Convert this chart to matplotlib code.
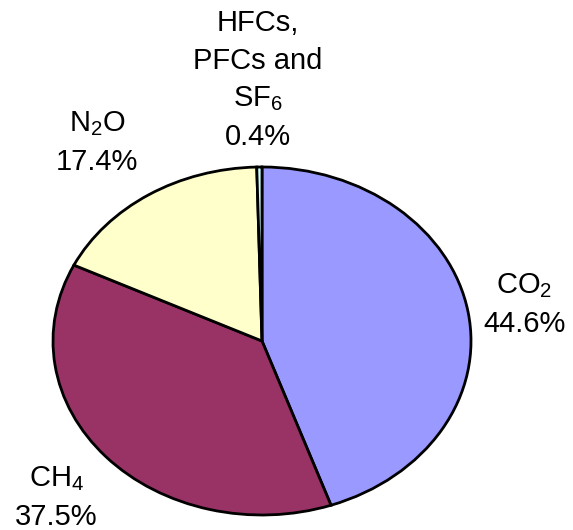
import matplotlib
matplotlib.use("Agg")
import matplotlib.pyplot as plt

plt.rcParams['font.family'] = ['Liberation Sans', 'DejaVu Sans']
plt.rcParams['mathtext.fontset'] = 'custom'
plt.rcParams['mathtext.rm'] = 'Liberation Sans'
plt.rcParams['mathtext.it'] = 'Liberation Sans'
plt.rcParams['mathtext.default'] = 'rm'

gases = ['CO$_2$', 'CH$_4$', 'N$_2$O', 'HFCs,\nPFCs and\nSF$_6$']
shares = [44.6, 37.5, 17.4, 0.4]
colors = ['#9999FF', '#993366', '#FFFFCC', '#CCFFFF']

# label anchor points in pie units (radius 1, ellipse drawn by axes stretch)
label_xy = [(1.255, 0.21), (-0.985, -0.90), (-0.79, 1.14), (-0.02, 1.50)]

fig = plt.figure(figsize=(5.73, 5.30), dpi=100)
ax = fig.add_axes([53/573, 15/530, 418/573, 348/530])
ax.pie(shares, colors=colors, startangle=90, counterclock=False,
       wedgeprops=dict(edgecolor='black', linewidth=2))
ax.set_aspect('auto')
ax.set_xlim(-1, 1)
ax.set_ylim(-1, 1)

for name, val, (x, y) in zip(gases, shares, label_xy):
    ax.text(x, y, f"{name}\n{val:.1f}%", ha='center', va='center',
            fontsize=21, linespacing=1.45, clip_on=False)

fig.savefig("out.png", dpi=100)
